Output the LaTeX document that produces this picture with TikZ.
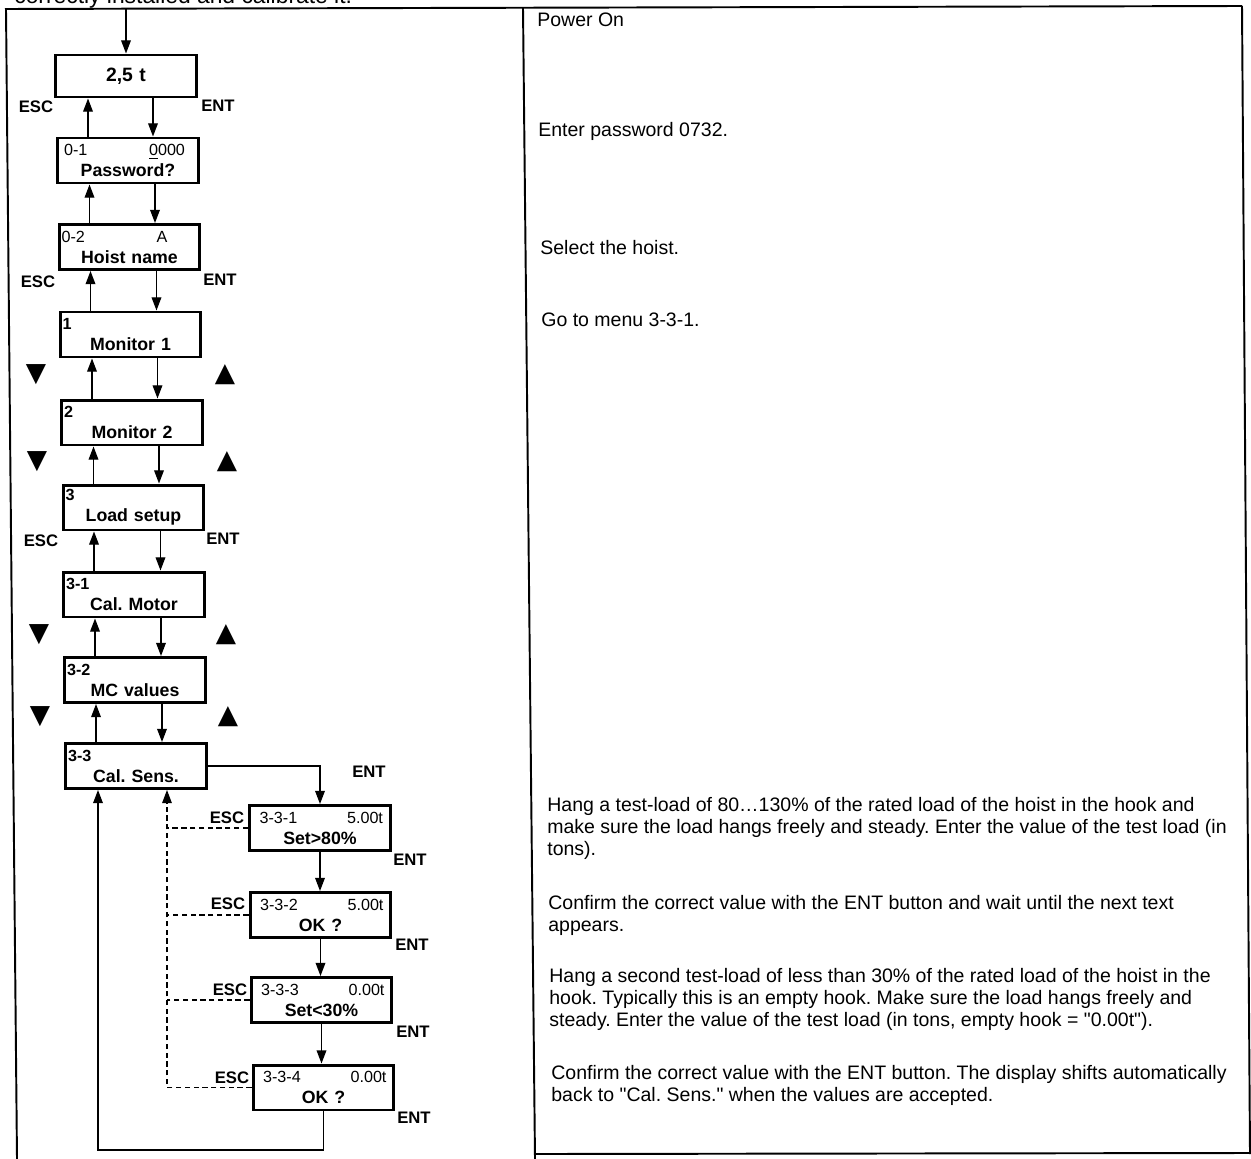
\documentclass[tikz,border=0pt]{standalone}
\usepackage{fontspec}
\setmainfont{Liberation Sans}
\newfontfamily\symfont{DejaVu Sans}
\usetikzlibrary{positioning,arrows.meta}
\newcommand\dtag{\fontsize{9.2}{12}\selectfont}
\frenchspacing

\begin{document}
\begin{tikzpicture}[x=0.02cm, y=-0.02cm,
    disp/.style={draw, line width=1.7pt, minimum width=2.82cm, minimum height=0.9cm,
        text width=2.72cm, inner xsep=0.05cm, inner ysep=1pt, align=center,
        font=\bfseries\fontsize{10.1}{12}\selectfont},
    key/.style={inner sep=0pt, font=\bfseries\fontsize{9.5}{11}\selectfont},
    tri/.style={inner sep=0pt, font=\symfont\fontsize{15}{15}\selectfont},
    arr/.style={line width=0.75pt, -{Triangle[length=7.5pt,width=5.5pt]}},
    esc/.style={line width=0.6pt, dash pattern=on 3pt off 2pt},
    note/.style={anchor=base west, inner sep=0pt, font=\fontsize{11.1}{12.8}\selectfont}]
    \useasboundingbox (0,0) rectangle (1251,1159);

    % frame of the table
    \draw[line width=1.1pt] (5,9) -- (1242,6);
    \draw[line width=1.1pt] (6,9) -- (17,1159);
    \draw[line width=1.1pt] (523,8) -- (535,1159);
    \draw[line width=1.1pt] (1242,6) -- (1250,1154);
    \draw[line width=1.1pt] (535,1154) -- (1250,1153);
    \begin{scope}
        \clip (0,0) rectangle (1251,1159);
        \node[anchor=base west, inner sep=0pt, font=\fontsize{13}{13}\selectfont] (head) at (14,4) {correctly installed and calibrate it.};
    \end{scope}

    % displays
    \node[disp, minimum height=0.84cm, font=\bfseries\fontsize{11}{13}\selectfont] (start) at (126,76) {2,5 t};
    \node[disp] (pwd)     at (128,160.5) {{\dtag\mdseries\hspace*{0.08cm}0-1\hfill\underline{0}000\hspace{0.22cm}\mbox{}}\\Password?};
    \node[disp] (hoist)   at (129.5,247) {{\dtag\mdseries 0-2\hfill A\hspace{0.6cm}\mbox{}}\\Hoist name};
    \node[disp] (mon1)    at (130.5,334.5) {{\dtag 1}\hfill\mbox{}\\Monitor 1};
    \node[disp] (mon2)    at (132,422.5) {{\dtag 2}\hfill\mbox{}\\Monitor 2};
    \node[disp] (load)    at (133.5,507.5) {{\dtag 3}\hfill\mbox{}\\Load setup};
    \node[disp] (calmot)  at (134,594.5) {{\dtag 3-1}\hfill\mbox{}\\Cal. Motor};
    \node[disp] (mcval)   at (135,680) {{\dtag 3-2}\hfill\mbox{}\\MC values};
    \node[disp] (calsens) at (136,766) {{\dtag 3-3}\hfill\mbox{}\\Cal. Sens.};

    \node[disp] (s331) at (320,828)    {{\dtag\mdseries\hspace*{0.15cm}3-3-1\hfill 5.00t\hspace{0.1cm}\mbox{}}\\Set>80\%};
    \node[disp] (s332) at (320.5,915)  {{\dtag\mdseries\hspace*{0.15cm}3-3-2\hfill 5.00t\hspace{0.1cm}\mbox{}}\\OK ?};
    \node[disp] (s333) at (321.5,1000) {{\dtag\mdseries\hspace*{0.15cm}3-3-3\hfill 0.00t\hspace{0.1cm}\mbox{}}\\Set<30\%};
    \node[disp] (s334) at (323.5,1087.5) {{\dtag\mdseries\hspace*{0.15cm}3-3-4\hfill 0.00t\hspace{0.1cm}\mbox{}}\\OK ?};

    % up / down between the menus
    \coordinate (pwron) at (126,9);
    \draw[arr] (pwron) -- (start.north);
    \foreach \a/\b in {start/pwd, pwd/hoist, hoist/mon1, mon1/mon2, mon2/load, load/calmot, calmot/mcval, mcval/calsens} {
        \draw[arr] ([xshift=-0.8cm]\b.north) -- ([xshift=-0.8cm]\b.north |- \a.south);
        \draw[arr] ([xshift=0.54cm]\a.south) -- ([xshift=0.54cm]\a.south |- \b.north);
    }

    % calibration branch
    \draw[arr] (calsens.east) -| (s331.north);
    \foreach \a/\b in {s331/s332, s332/s333, s333/s334} {
        \draw[arr] (\a.south) -- (\a.south |- \b.north);
    }
    \coordinate (back) at (98,1150);
    \draw[arr] (s334.south) |- (back) -- (back |- calsens.south);
    \coordinate (escbus) at ([xshift=0.62cm]calsens.south);
    \draw[esc, -{Triangle[length=7.5pt,width=5.5pt]}] (s334.west) -| (escbus);
    \foreach \s in {s331, s332, s333} {
        \draw[esc] (\s.west) -- (\s.west -| escbus);
    }

    % key labels
    \foreach \n/\x/\y in {0/36/107, 1/38/282, 2/41/541, 331/227/818, 332/228/904, 333/230/990, 334/232/1078} {
        \node[key] (esc\n) at (\x,\y) {ESC};
    }
    \foreach \n/\x/\y in {0/218/106, 1/220/280, 2/223/539, 3/369/772, 331/410/860, 332/412/945, 333/413/1032, 334/414/1118} {
        \node[key] (ent\n) at (\x,\y) {ENT};
    }
    \foreach \n/\xd/\xu/\y in {1/36/225/375, 2/37/227/462, 3/39/226/635, 4/40/228/717} {
        \node[tri] (dn\n) at (\xd,\y) {▼};
        \node[tri] (up\n) at (\xu,\y) {▲};
    }

    % explanations
    \node[note] (n1) at (537,27)  {Power On};
    \node[note] (n2) at (538,136) {Enter password 0732.};
    \node[note] (n3) at (540,254) {Select the hoist.};
    \node[note] (n4) at (541,326) {Go to menu 3-3-1.};
    \node[note] (n5) at (547,811) {\begin{tabular}[t]{@{}l@{}}Hang a test-load of 80\dots130\% of the rated load of the hoist in the hook and\\make sure the load hangs freely and steady. Enter the value of the test load (in\\tons).\end{tabular}};
    \node[note] (n6) at (548,909) {\begin{tabular}[t]{@{}l@{}}Confirm the correct value with the ENT button and wait until the next text\\appears.\end{tabular}};
    \node[note] (n7) at (549,982) {\begin{tabular}[t]{@{}l@{}}Hang a second test-load of less than 30\% of the rated load of the hoist in the\\hook. Typically this is an empty hook. Make sure the load hangs freely and\\steady. Enter the value of the test load (in tons, empty hook = \textquotedbl0.00t\textquotedbl).\end{tabular}};
    \node[note] (n8) at (551,1079) {\begin{tabular}[t]{@{}l@{}}Confirm the correct value with the ENT button. The display shifts automatically\\back to \textquotedbl Cal. Sens.\textquotedbl{} when the values are accepted.\end{tabular}};
\end{tikzpicture}
\end{document}
